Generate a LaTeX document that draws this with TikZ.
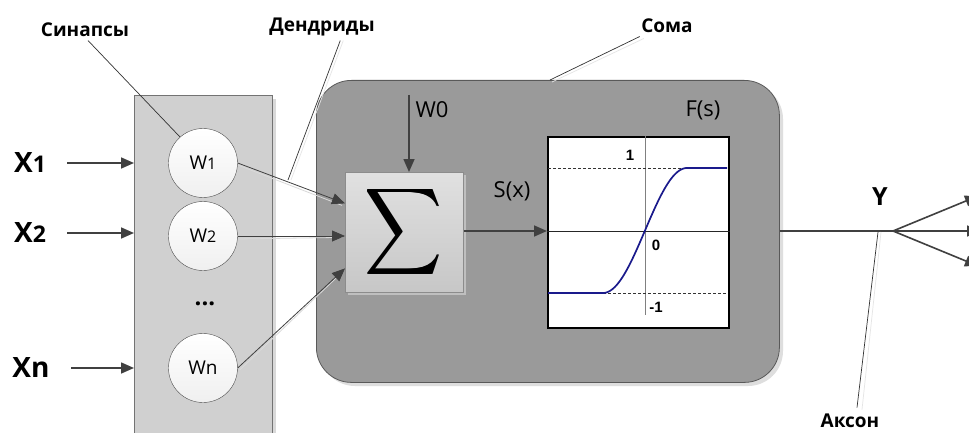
\documentclass[tikz,border=0pt]{standalone}
\usepackage{fontspec}
\setmainfont{Open Sans}
\newfontfamily\arialf{Liberation Sans}
\usetikzlibrary{arrows.meta}
\definecolor{panelc}{HTML}{D0D0D0}
\definecolor{somac}{HTML}{9A9A9A}
\definecolor{arrc}{HTML}{404040}
\definecolor{curvec}{HTML}{1A1A8C}
\begin{document}
\begin{tikzpicture}[x=1pt,y=-1pt,
  panelbox/.style={draw=black!55, fill=panelc, line width=0.8pt, anchor=north west, inner sep=0pt},
  somabox/.style={draw=black!65, fill=somac, line width=0.8pt, rounded corners=35pt, anchor=north west, inner sep=0pt},
  sigbox/.style={draw=black!45, top color=black!12, bottom color=black!22, line width=0.8pt, anchor=north west, inner sep=0pt},
  graphbox/.style={draw=black, fill=white, line width=1.6pt, anchor=north west, inner sep=0pt},
  wcirc/.style={circle, draw=black!70, top color=white, bottom color=black!6, minimum size=69pt, inner sep=0pt, font=\fontsize{19}{19}\selectfont},
  xlab/.style={font=\bfseries\fontsize{28}{28}\selectfont},
  callout/.style={font=\bfseries\fontsize{19}{19}\selectfont},
  midlab/.style={font=\fontsize{22}{22}\selectfont},
  glab/.style={font=\arialf\bfseries\fontsize{15}{15}\selectfont, inner sep=1pt},
  bigarrow/.style={draw=arrc, line width=1.6pt, -{Triangle[length=13pt,width=11pt]}},
  warrow/.style={draw=arrc, line width=0.8pt, -{Triangle[length=13pt,width=11pt]}},
  ptr/.style={draw=black!80, line width=0.7pt},
  ptrshadow/.style={draw=white!90!black, line width=0.7pt}
]
\useasboundingbox (0,0) rectangle (969,433);
\fill[white] (0,0) rectangle (969,433);

% synapse panel
\fill[black!15] (138,99) rectangle (276,440);
\node[panelbox, minimum width=138pt, minimum height=345pt] (panel) at (134,95) {};

% soma
\fill[black!13, rounded corners=35pt] (320,84) rectangle (783,386);
\node[somabox, minimum width=463pt, minimum height=302pt] (soma) at (316,80) {};

% sigma box
\fill[black!25] (348,175) rectangle (466,295);
\node[sigbox, minimum width=118pt, minimum height=120pt] (sig) at (345,172) {};
\node[inner sep=0pt] (sum) at (403.5,231.5) {\resizebox*{77pt}{97pt}{$\displaystyle\sum$}};
\node[inner sep=0pt] (sumb) at (404.3,231.5) {\resizebox*{77pt}{97pt}{$\displaystyle\sum$}};

% graph
\node[graphbox, minimum width=181pt, minimum height=191pt] (graph) at (547,136) {};
\draw[black!50, line width=0.9pt] (645,136) -- (645,315);
\draw[black!85, line width=0.8pt] (graph.west |- 0,231) -- (graph.east |- 0,231);
\draw[black!80, line width=0.6pt, dash pattern=on 3pt off 2pt] (548,168) -- (727,168);
\draw[black!80, line width=0.6pt, dash pattern=on 3pt off 2pt] (548,293) -- (727,293);
\draw[curvec, line width=1.7pt] (548,293) -- (603,293)
  plot[smooth, domain=603:687, samples=60] (\x, {230.5 + 62.5*cos(180*(\x-603)/84)})
  -- (727,168);
\node[glab] (g1) at (630,155) {1};
\node[glab] (g0) at (656,245) {0};
\node[glab] (gm1) at (656,307) {-1};

% circles
\node[wcirc] (w1) at (203,163) {W{\fontsize{16}{16}\selectfont 1}};
\node[wcirc] (w2) at (203,236) {W{\fontsize{16}{16}\selectfont 2}};
\node[wcirc] (wn) at (203,368) {Wn};
\node[font=\bfseries\fontsize{24}{24}\selectfont] (dots) at (205,304) {...};

% inputs
\node[xlab] (x1) at (30,163) {X{\fontsize{23}{23}\selectfont 1}};
\node[xlab] (x2) at (30,233) {X{\fontsize{23}{23}\selectfont 2}};
\node[xlab] (xn) at (31,368) {Xn};
\draw[bigarrow] ([xshift=18pt]x1.east) -- (x1 -| panel.west);
\draw[bigarrow] ([xshift=18pt]x2.east) -- (x2 -| panel.west);
\draw[bigarrow] ([xshift=18pt]xn.east) -- (xn -| panel.west);

% weight arrows
\draw[white!85!black, line width=0.8pt] ([yshift=-2pt]w1.east) -- ([xshift=-3pt,yshift=27pt]sig.west);
\draw[white!85!black, line width=0.8pt] ([yshift=-3pt]w2.east) -- ([xshift=-3pt,yshift=-5pt]sig.west);
\draw[white!85!black, line width=0.8pt] ([xshift=2pt,yshift=-2pt]wn.east) -- ([xshift=-3pt,yshift=-40pt]sig.west);
\draw[warrow] (w1.east) -- ([yshift=29pt]sig.west);
\draw[warrow] (w2.east) -- (w2.east -| sig.west);
\draw[warrow] (wn.east) -- ([yshift=-36pt]sig.west);

% W0
\coordinate (w0top) at (409,95);
\draw[bigarrow] (w0top) -- (w0top |- sig.north);
\node[midlab, anchor=west] (w0) at (412,110) {W0};

% S(x) and F(s)
\node[midlab] (sx) at (512,191) {S(x)};
\node[midlab] (fs) at (703,110) {F(s)};
\draw[bigarrow] (sig.east |- 0,231) -- (graph.west |- 0,231);

% output
\coordinate (br) at (893,231);
\coordinate (o1) at (978,196);
\coordinate (o2) at (980,231);
\coordinate (o3) at (978,266);
\draw[draw=arrc, line width=1.6pt] (soma.east |- br) -- (br);
\draw[bigarrow] (br) -- (o1);
\draw[bigarrow] (br) -- (o2);
\draw[bigarrow] (br) -- (o3);
\node[font=\bfseries\fontsize{25}{25}\selectfont] (ylab) at (880,197) {Y};

% callouts
\node[callout] (syn) at (85,30) {Синапсы};
\node[callout] (den) at (322,27) {Дендриды};
\node[callout] (som) at (667,26) {Сома};
\node[callout] (axn) at (850,421) {Аксон};
\coordinate (synend) at (180,137);
\coordinate (denend) at (288,180);
\coordinate (somend) at (550,80);
\coordinate (axnend) at (878,232);
\draw[ptrshadow] ([xshift=3pt]den.south east) ++(-38pt,-1pt) -- ([xshift=3pt]denend);
\draw[ptrshadow] ([xshift=2pt,yshift=-2pt]somend) -- ([xshift=6pt,yshift=-2pt]som.south west);
\draw[ptrshadow] ([xshift=3pt]axnend) -- ([xshift=12pt,yshift=1pt]axn.north);
\draw[ptr] ([xshift=3pt]syn.south) -- (synend);
\draw[ptr] ([xshift=-38pt,yshift=-1pt]den.south east) -- (denend);
\draw[ptr] ([xshift=2pt]som.south west) -- (somend);
\draw[ptr] (axnend) -- ([xshift=7pt,yshift=3pt]axn.north);
\end{tikzpicture}
\end{document}
